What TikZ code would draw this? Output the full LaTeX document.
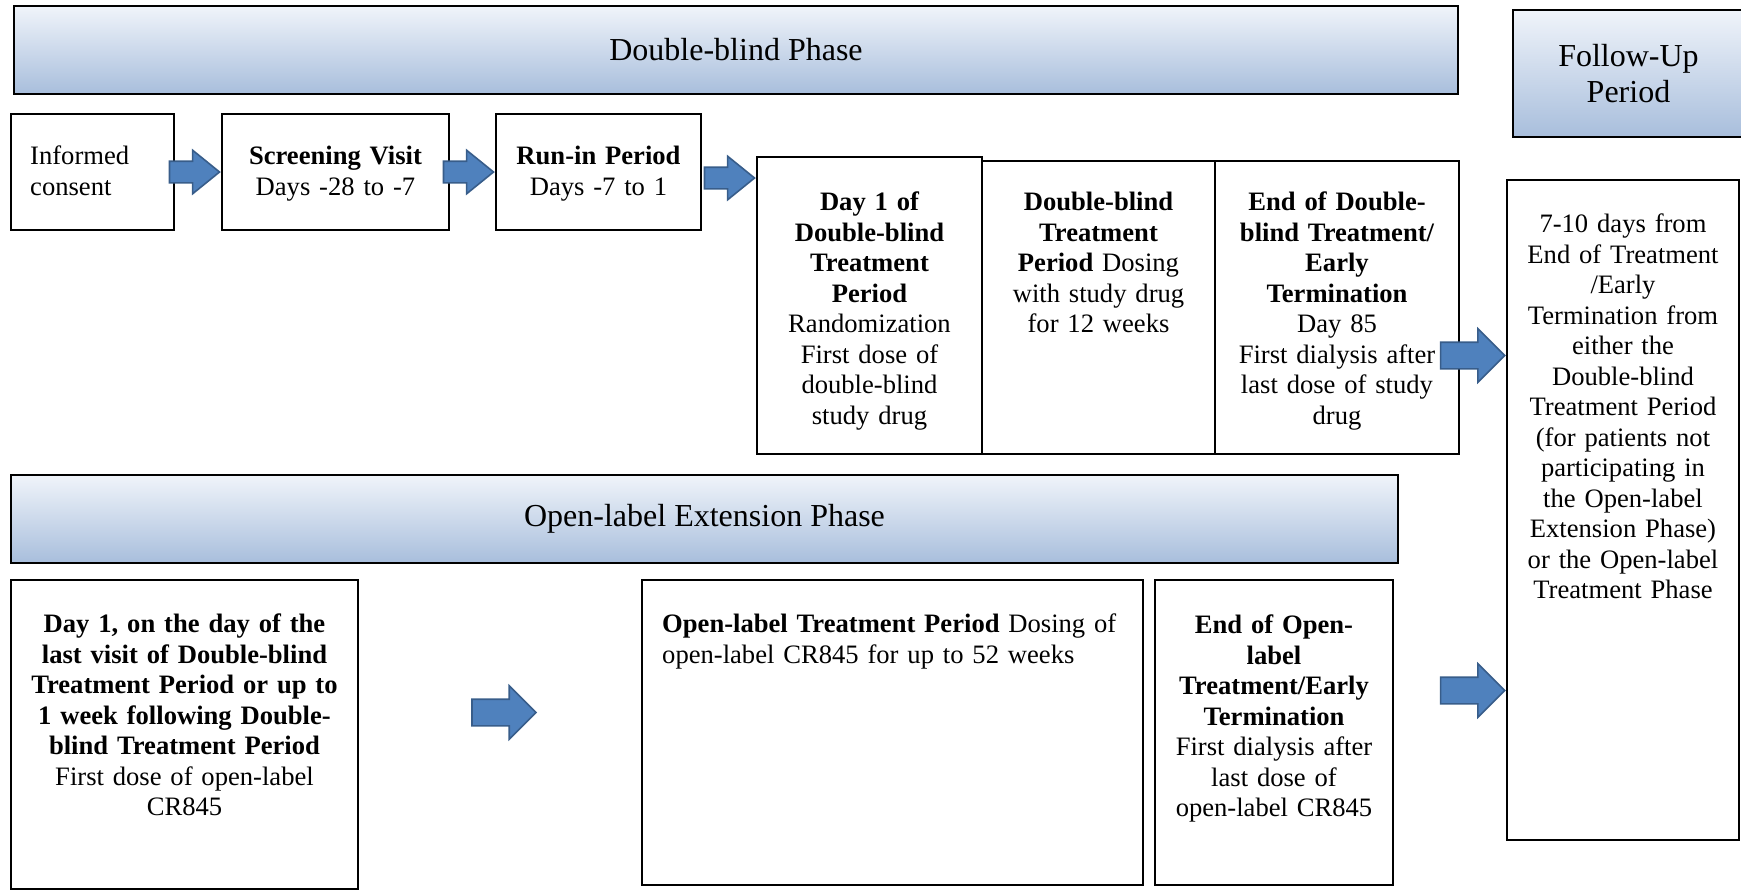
\documentclass[tikz,border=0pt]{standalone}
\usepackage{fontspec}
\setmainfont{Liberation Serif}
\usetikzlibrary{fit,shapes.arrows}

\definecolor{bannertop}{RGB}{240,244,250}
\definecolor{bannerbot}{RGB}{168,190,220}
\definecolor{arrowfill}{RGB}{79,129,189}
\definecolor{arrowdraw}{RGB}{56,93,138}

\newcommand{\bodyfont}{\fontsize{13.3}{15.25}\selectfont}
\newcommand{\titlefont}{\fontsize{16}{18.3}\selectfont}

\tikzset{
  phase/.style={draw=black, line width=1.2pt, top color=bannertop, bottom color=bannerbot, inner sep=0pt},
  title/.style={font=\titlefont, align=center, inner sep=0pt},
  box/.style={draw=black, line width=1.2pt, fill=white, inner sep=0pt},
  txt/.style={anchor=base, text width=#1, align=center, font=\bodyfont, inner sep=0pt},
  txt/.default=170pt,
  fatarrow/.style={single arrow, draw=arrowdraw, fill=arrowfill, line width=0.8pt,
    inner xsep=0pt, anchor=tip},
  smallarrow/.style={fatarrow, inner ysep=5pt, minimum height=25pt, minimum width=21pt,
    single arrow head extend=5.5pt, single arrow tip angle=78},
  bigarrow/.style={fatarrow, inner ysep=6.25pt, minimum height=32pt, minimum width=26pt,
    single arrow head extend=6.75pt, single arrow tip angle=90},
}

\begin{document}
\begin{tikzpicture}[x=0.5pt, y=-0.5pt]
\useasboundingbox (0,0) rectangle (1741,891);

% phase banners
\node[phase, fit={(14,6) (1458,94)}] (dbp) {};
\node[phase, fit={(1513,10) (1744,137)}] (fup) {};
\node[phase, fit={(11,475) (1398,563)}] (olp) {};
\node[title] (dbpt) at (dbp.center) {Double-blind Phase};
\node[title] (fupt) at (fup.center) {Follow-Up\\Period};
\node[title] (olpt) at (olp.center) {Open-label Extension Phase};

% double-blind row
\node[box, fit={(11,114) (174,230)}] (ic) {};
\node[box, fit={(222,114) (449,230)}] (sv) {};
\node[box, fit={(496,114) (701,230)}] (ri) {};
\node[box, fit={(757,157) (982,454)}] (d1) {};
\node[box, fit={(982,161) (1215,454)}] (dbt) {};
\node[box, fit={(1215,161) (1459,454)}] (edb) {};

\node[txt, anchor=base west, align=left] (ict) at ([xshift=10pt, yshift=-26pt]ic.north west) {Informed\\consent};
\node[txt] (svt) at ([yshift=-26pt]sv.north) {\textbf{Screening Visit}\\Days -28 to -7};
\node[txt] (rit) at ([yshift=-26pt]ri.north) {\textbf{Run-in Period}\\Days -7 to 1};
\node[txt] (d1t) at ([yshift=-27.5pt]d1.north) {{\bfseries Day 1 of\\Double-blind\\Treatment\\Period\\}Randomization\\First dose of\\double-blind\\study drug};
\node[txt] (dbtt) at ([yshift=-25.5pt]dbt.north) {{\bfseries Double-blind\\Treatment\\Period} Dosing\\with study drug\\for 12 weeks};
\node[txt] (edbt) at ([yshift=-25.5pt]edb.north) {{\bfseries End of Double-\\blind Treatment/\\Early\\Termination\\}Day 85\\First dialysis after\\last dose of study\\drug};

% follow-up
\node[box, fit={(1507,180) (1739,840)}] (fu) {};
\node[txt] (fut) at ([yshift=-27pt]fu.north) {7-10 days from\\End of Treatment\\/Early\\Termination from\\either the\\Double-blind\\Treatment Period\\(for patients not\\participating in\\the Open-label\\Extension Phase)\\or the Open-label\\Treatment Phase};

% open-label row
\node[box, fit={(11,580) (358,889)}] (od1) {};
\node[box, fit={(642,580) (1143,885)}] (olt) {};
\node[box, fit={(1155,580) (1393,885)}] (eol) {};

\node[txt] (od1t) at ([yshift=-27pt]od1.north) {{\bfseries Day 1, on the day of the\\last visit of Double-blind\\Treatment Period or up to\\1 week following Double-\\blind Treatment Period\\}First dose of open-label\\CR845};
\node[txt=240pt, anchor=base west, align=left] (oltt) at ([xshift=10.5pt, yshift=-27pt]olt.north west) {\textbf{Open-label Treatment Period} Dosing of\\open-label CR845 for up to 52 weeks};
\node[txt] (eolt) at ([yshift=-27.5pt]eol.north) {{\bfseries End of Open-\\label\\Treatment/Early\\Termination\\}First dialysis after\\last dose of\\open-label CR845};

% arrows
\node[smallarrow] (a1) at (sv.west) {};
\node[smallarrow] (a2) at (ri.west) {};
\node[smallarrow, yshift=-3pt] (a3) at (d1.west |- ri.east) {};
\node[bigarrow, yshift=-24pt] (a4) at (fu.west |- edb.east) {};
\node[bigarrow, yshift=21pt] (a5) at (fu.west |- eol.east) {};
\node[bigarrow, anchor=tail, yshift=11pt] (a6) at ([xshift=56pt]od1.east) {};
\end{tikzpicture}
\end{document}
